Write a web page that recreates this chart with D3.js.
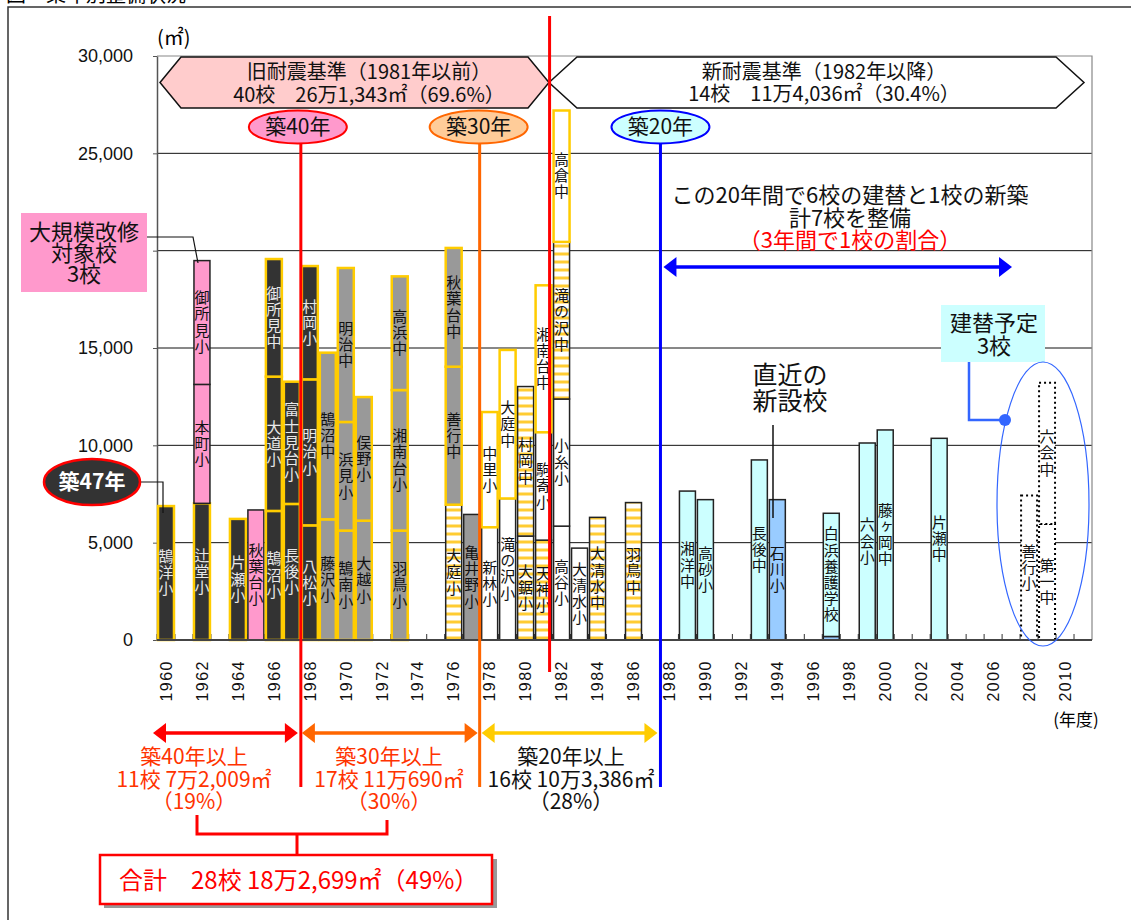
<!DOCTYPE html>
<html>
<head>
<meta charset="utf-8">
<script src="https://cdn.jsdelivr.net/npm/d3@7"></script>
<style>
  body { margin: 0; background: #fff; }
  svg { display: block; }
</style>
</head>
<body>
<div id="vis"></div>
<script>
const w = 1131;
const h = 920;
const jp = '"Noto Sans CJK JP", sans-serif';
const latin = '"Liberation Sans", sans-serif';

// schools, stacked bottom -> top inside each year
const schoolNames = ['鵠洋小', '辻堂小', '本町小', '御所見小', '片瀬小', '秋葉台小', '鵠沼小', '大道小', '御所見中',
    '長後小', '富士見台小', '八松小', '明治小', '村岡小', '藤沢小', '鵠沼中', '鵠南小', '浜見小', '明治中',
    '大越小', '俣野小', '羽鳥小', '湘南台小', '高浜中', '大庭小', '善行中', '秋葉台中', '亀井野小',
    '新林小', '中里小', '滝の沢小', '大庭中', '大鋸小', '村岡中', '天神小', '駒寄小', '湘南台中',
    '高谷小', '小糸小', '滝の沢中', '高倉中', '大清水小', '大清水中', '羽鳥中',
    '湘洋中', '高砂小', '長後中', '石川小', '', '白浜養護学校', '六会小', '藤ヶ岡中', '片瀬中',
    '善行小', '第一中', '六会中'];
const schoolYears = [1960, 1962, 1962, 1962, 1964, 1965, 1966, 1966, 1966,
    1967, 1967, 1968, 1968, 1968, 1969, 1969, 1970, 1970, 1970,
    1971, 1971, 1973, 1973, 1973, 1976, 1976, 1976, 1977,
    1978, 1978, 1979, 1979, 1980, 1980, 1981, 1981, 1981,
    1982, 1982, 1982, 1982, 1983, 1984, 1986,
    1989, 1990, 1993, 1994, 1997, 1997, 1999, 2000, 2003,
    2008, 2009, 2009];
const schoolAreas = [6880, 7020, 6110, 6360, 6220, 6680, 6630, 6900, 6040,
    6990, 6280, 5890, 7500, 5820, 6200, 8560, 5620, 5580, 7910,
    6130, 6350, 5620, 7220, 5840, 6950, 7090, 6100, 6450,
    5790, 5920, 7270, 7630, 5340, 7680, 5130, 5540, 7550,
    5850, 6530, 8070, 6750, 4720, 6300, 7060,
    7650, 7210, 9250, 7210, 180, 6330, 10120, 10790, 10360,
    7420, 5960, 7260];
// A: old dark, P: large renovation, G: grey, Gd: grey (no retrofit), W: white, Wy: white retrofitted,
// S: striped, N: new building, L: newest, D: planned
const schoolTypes = ['A', 'A', 'P', 'P', 'A', 'P', 'A', 'A', 'A',
    'A', 'A', 'A', 'A', 'A', 'G', 'G', 'G', 'G', 'G',
    'G', 'G', 'G', 'G', 'G', 'S', 'G', 'G', 'Gd',
    'W', 'Wy', 'W', 'Wy', 'S', 'S', 'S', 'W', 'Wy',
    'W', 'W', 'S', 'Wy', 'W', 'S', 'S',
    'N', 'N', 'N', 'L', 'L', 'N', 'N', 'N', 'N',
    'D', 'D', 'D'];

const yTicks = [0, 5000, 10000, 15000, 20000, 25000, 30000];
const yearLabels = ['1960', '1962', '1964', '1966', '1968', '1970', '1972', '1974', '1976', '1978', '1980',
    '1982', '1984', '1986', '1988', '1990', '1992', '1994', '1996', '1998', '2000', '2002', '2004',
    '2006', '2008', '2010'];

const fills = {A: '#333333', P: '#ff99cc', G: '#999999', Gd: '#999999', W: '#ffffff', Wy: '#ffffff',
    S: 'url(#stripe)', N: '#ccffff', L: '#99ccff', D: '#ffffff'};
const strokes = {A: '#ffcc00', P: '#222', G: '#ffcc00', Gd: '#222', W: '#222', Wy: '#ffcc00',
    S: '#222', N: '#222', L: '#222', D: '#000'};

const svg = d3.select('#vis')
    .append('svg')
    .attr('width', w)
    .attr('height', h);

const defs = svg.append('defs');
const pat = defs.append('pattern')
    .attr('id', 'stripe')
    .attr('patternUnits', 'userSpaceOnUse')
    .attr('width', 20)
    .attr('height', 8);
pat.append('rect').attr('width', 20).attr('height', 8).attr('fill', '#fff');
pat.append('rect').attr('y', 4.5).attr('width', 20).attr('height', 3).attr('fill', '#ffcc33');

const xScale = d3.scaleBand()
    .domain(d3.range(1960, 2012))
    .range([157, 1092])
    .padding(0);
const bw = xScale.bandwidth();

const yScale = d3.scaleLinear()
    .domain([0, 30000])
    .range([640, 56]);

// outer frame + cut title
svg.append('rect')
    .attr('x', 8).attr('y', 7)
    .attr('width', 1200).attr('height', 1000)
    .attr('fill', 'none').attr('stroke', '#333').attr('stroke-width', 1.5);
svg.append('text')
    .attr('x', 6).attr('y', 2)
    .attr('font-family', jp).attr('font-size', 20)
    .text('図　築年別整備状況');

// grid
svg.append('g')
    .selectAll('line')
    .data(yTicks.filter(d => d > 0 && d < 30000))
    .join('line')
    .attr('x1', 157).attr('x2', 1092)
    .attr('y1', d => yScale(d)).attr('y2', d => yScale(d))
    .attr('stroke', '#111').attr('stroke-width', 1);

// plot frame (top/right)
svg.append('path')
    .attr('d', `M157,${yScale(30000)}H1092V640`)
    .attr('fill', 'none').attr('stroke', '#888').attr('stroke-width', 1.2);

// inner x ticks at band boundaries
svg.append('g')
    .selectAll('line')
    .data(d3.range(1960, 2012))
    .join('line')
    .attr('x1', d => xScale(d)).attr('x2', d => xScale(d))
    .attr('y1', 640).attr('y2', 634)
    .attr('stroke', '#333').attr('stroke-width', 1);

// y axis
const yAxis = d3.axisLeft(yScale)
    .tickValues(yTicks)
    .tickFormat(d3.format(','))
    .tickSizeInner(4)
    .tickSizeOuter(0)
    .tickPadding(20);
const ya = svg.append('g')
    .attr('transform', 'translate(157,0)')
    .call(yAxis);
ya.select('.domain').attr('stroke', '#555').attr('stroke-width', 1.5);
ya.selectAll('.tick line').attr('stroke', '#555');
ya.selectAll('.tick text')
    .attr('font-family', latin)
    .attr('font-size', 18)
    .attr('fill', '#111');

// stacked segments
const segs = [];
const running = {};
schoolNames.forEach((name, i) => {
    const yr = schoolYears[i];
    const base = running[yr] || 0;
    segs.push({name: name, year: yr, y0: base, y1: base + schoolAreas[i], type: schoolTypes[i]});
    running[yr] = base + schoolAreas[i];
});

svg.append('g')
    .selectAll('rect')
    .data(segs)
    .join('rect')
    .attr('x', d => xScale(d.year) + 1)
    .attr('y', d => yScale(d.y1))
    .attr('width', bw - 2)
    .attr('height', d => yScale(d.y0) - yScale(d.y1))
    .attr('fill', d => fills[d.type])
    .attr('stroke', d => strokes[d.type])
    .attr('stroke-width', d => strokes[d.type] === '#ffcc00' ? 2.5 : (d.type === 'D' ? 2 : 1.5))
    .attr('stroke-dasharray', d => d.type === 'D' ? '2,3' : null);

// vertical labels inside segments (one text each, vertical writing)
svg.append('g')
    .selectAll('text')
    .data(segs.filter(d => d.name))
    .join('text')
    .attr('x', d => xScale(d.year) + bw / 2)
    .attr('y', d => (yScale(d.y0) + yScale(d.y1)) / 2)
    .style('writing-mode', 'vertical-rl')
    .attr('text-anchor', 'middle')
    .attr('font-family', jp)
    .attr('font-size', 15)
    .attr('letter-spacing', 1.2)
    .attr('fill', d => d.type === 'A' ? '#e8e8e8' : '#111')
    .text(d => d.name);

// x axis
svg.append('line')
    .attr('x1', 157).attr('x2', 1092).attr('y1', 640).attr('y2', 640)
    .attr('stroke', '#444').attr('stroke-width', 2);
const xAxis = d3.axisBottom(xScale)
    .tickValues(yearLabels.map(Number))
    .tickSize(0);
const xa = svg.append('g')
    .attr('transform', 'translate(0,640)')
    .call(xAxis);
xa.select('.domain').remove();
xa.selectAll('.tick text')
    .attr('transform', 'rotate(-90)')
    .attr('text-anchor', 'end')
    .attr('x', -20)
    .attr('y', 0)
    .attr('dy', '0.36em')
    .attr('font-family', latin)
    .attr('font-size', 16)
    .attr('letter-spacing', 1.5)
    .attr('fill', '#111');

svg.append('text')
    .attr('x', 1076).attr('y', 720).attr('dy', '0.35em')
    .attr('text-anchor', 'middle')
    .attr('font-family', jp).attr('font-size', 17)
    .text('(年度)');
svg.append('text')
    .attr('x', 157).attr('y', 38).attr('dy', '0.35em')
    .attr('font-family', jp).attr('font-size', 20)
    .text('(㎡)');

// helpers
function hexagon(x0, x1, yt, yb, tip, fill) {
    const ym = (yt + yb) / 2;
    const pts = [[x0, ym], [x0 + tip, yt], [x1 - tip, yt], [x1, ym], [x1 - tip, yb], [x0 + tip, yb]];
    svg.append('polygon')
        .attr('points', pts.map(p => p.join(',')).join(' '))
        .attr('fill', fill).attr('stroke', '#111').attr('stroke-width', 1.5);
}

// multi-line centred text as one element
function label(x, y, lines, size, gap, color, bold) {
    const t = svg.append('text')
        .attr('text-anchor', 'middle')
        .attr('font-family', jp)
        .attr('font-size', size)
        .attr('font-weight', bold ? 'bold' : null)
        .attr('fill', color || '#111');
    [].concat(lines).forEach((s, k) => {
        t.append('tspan')
            .attr('x', x)
            .attr('y', y + k * gap)
            .attr('dy', '0.35em')
            .text(s);
    });
    return t;
}

function dArrow(x0, x1, y, color) {
    const hl = 13, hh = 10;
    svg.append('line')
        .attr('x1', x0 + hl - 2).attr('x2', x1 - hl + 2).attr('y1', y).attr('y2', y)
        .attr('stroke', color).attr('stroke-width', 3.5);
    svg.append('polygon')
        .attr('points', `${x0},${y} ${x0 + hl},${y - hh} ${x0 + hl},${y + hh}`)
        .attr('fill', color);
    svg.append('polygon')
        .attr('points', `${x1},${y} ${x1 - hl},${y - hh} ${x1 - hl},${y + hh}`)
        .attr('fill', color);
}

function vline(x, y0, y1, color, sw) {
    svg.append('line')
        .attr('x1', x).attr('x2', x).attr('y1', y0).attr('y2', y1)
        .attr('stroke', color).attr('stroke-width', sw || 3);
}

// top hexagons
hexagon(160, 549, 57, 108, 21, '#ffcccc');
hexagon(549, 1084, 57, 108, 28, '#ffffff');
label(369, 72, ['旧耐震基準（1981年以前）', '40校　26万1,343㎡（69.6%）'], 20, 23);
label(824, 72, ['新耐震基準（1982年以降）', '14校　11万4,036㎡（30.4%）'], 20, 22);

// age lines
const x40 = xScale(1968), x30 = xScale(1978) - 1, x20 = xScale(1988), xNew = xScale(1982) - 3;
vline(x40, 143, 787, '#ff0000');
vline(x30, 143, 787, '#ff6600');
vline(x20, 143, 787, '#0000ff');
vline(xNew, 16, 672, '#ff0000');

function pill(cx, txt, fill, stroke) {
    svg.append('ellipse')
        .attr('cx', cx).attr('cy', 127).attr('rx', 49).attr('ry', 16.5)
        .attr('fill', fill).attr('stroke', stroke).attr('stroke-width', 2);
    label(cx, 127, txt, 21, 0);
}
pill(x40 - 3, '築40年', '#ff99cc', '#ff0000');
pill(x30 - 1, '築30年', '#ffcc99', '#ff6600');
pill(x20, '築20年', '#ccffff', '#0000ff');

// left callouts
svg.append('path')
    .attr('d', 'M147,237H193L198,263')
    .attr('fill', 'none').attr('stroke', '#111').attr('stroke-width', 1.2);
svg.append('rect')
    .attr('x', 21).attr('y', 213).attr('width', 126).attr('height', 79)
    .attr('fill', '#ff99cc');
label(84, 232, ['大規模改修', '対象校', '3校'], 22, 21);

svg.append('path')
    .attr('d', 'M140,482H163V513')
    .attr('fill', 'none').attr('stroke', '#111').attr('stroke-width', 1.2);
svg.append('ellipse')
    .attr('cx', 92).attr('cy', 482).attr('rx', 48).attr('ry', 23)
    .attr('fill', '#333').attr('stroke', '#ff0000').attr('stroke-width', 2.5);
label(92, 482, '築47年', 21, 0, '#fff', true);

// right side notes
label(850, 195, ['この20年間で6校の建替と1校の新築', '計7校を整備'], 22, 23);
label(850, 240, '（3年間で1校の割合）', 22, 0, '#ff0000');
dArrow(x20 + 3, 1012, 267, '#0000ff');

label(790, 375, ['直近の', '新設校'], 25, 26);
vline(773, 425, 518, '#111', 1.5);

svg.append('rect')
    .attr('x', 941).attr('y', 305).attr('width', 104).attr('height', 57)
    .attr('fill', '#ccffff');
label(994, 323, ['建替予定', '3校'], 22, 23);
svg.append('path')
    .attr('d', 'M969,362V420H1005')
    .attr('fill', 'none').attr('stroke', '#3366ff').attr('stroke-width', 2.5);
svg.append('circle')
    .attr('cx', 1005).attr('cy', 420).attr('r', 6)
    .attr('fill', '#3366ff');
svg.append('ellipse')
    .attr('cx', 1043).attr('cy', 504).attr('rx', 46).attr('ry', 142)
    .attr('fill', 'none').attr('stroke', '#3366ff').attr('stroke-width', 1.2);

// bottom summary
dArrow(153, x40 - 3, 733, '#ff0000');
dArrow(x40 + 1, x30 - 2, 733, '#ff6600');
dArrow(x30 + 2, x20 - 3, 733, '#ffcc00');

const orange = '#ff3300';
label(194, 757, ['築40年以上', '11校 7万2,009㎡', '（19%）'], 21, 22.5, orange);
label(389, 757, ['築30年以上', '17校 11万690㎡', '（30%）'], 21, 22.5, orange);
label(571, 757, ['築20年以上', '16校 10万3,386㎡', '（28%）'], 21, 22.5);

svg.append('path')
    .attr('d', 'M197,815V834H387V820 M297,834V855')
    .attr('fill', 'none').attr('stroke', '#ff0000').attr('stroke-width', 3);
svg.append('rect')
    .attr('x', 104).attr('y', 859).attr('width', 393).attr('height', 49)
    .attr('fill', '#999');
svg.append('rect')
    .attr('x', 100).attr('y', 855).attr('width', 392).attr('height', 49)
    .attr('fill', '#fff').attr('stroke', '#ff0000').attr('stroke-width', 2.5);
svg.append('text')
    .attr('x', 119).attr('y', 881).attr('dy', '0.35em')
    .attr('font-family', jp).attr('font-size', 24)
    .attr('fill', '#ff0000')
    .text('合計　28校 18万2,699㎡（49%）');
</script>
</body>
</html>
